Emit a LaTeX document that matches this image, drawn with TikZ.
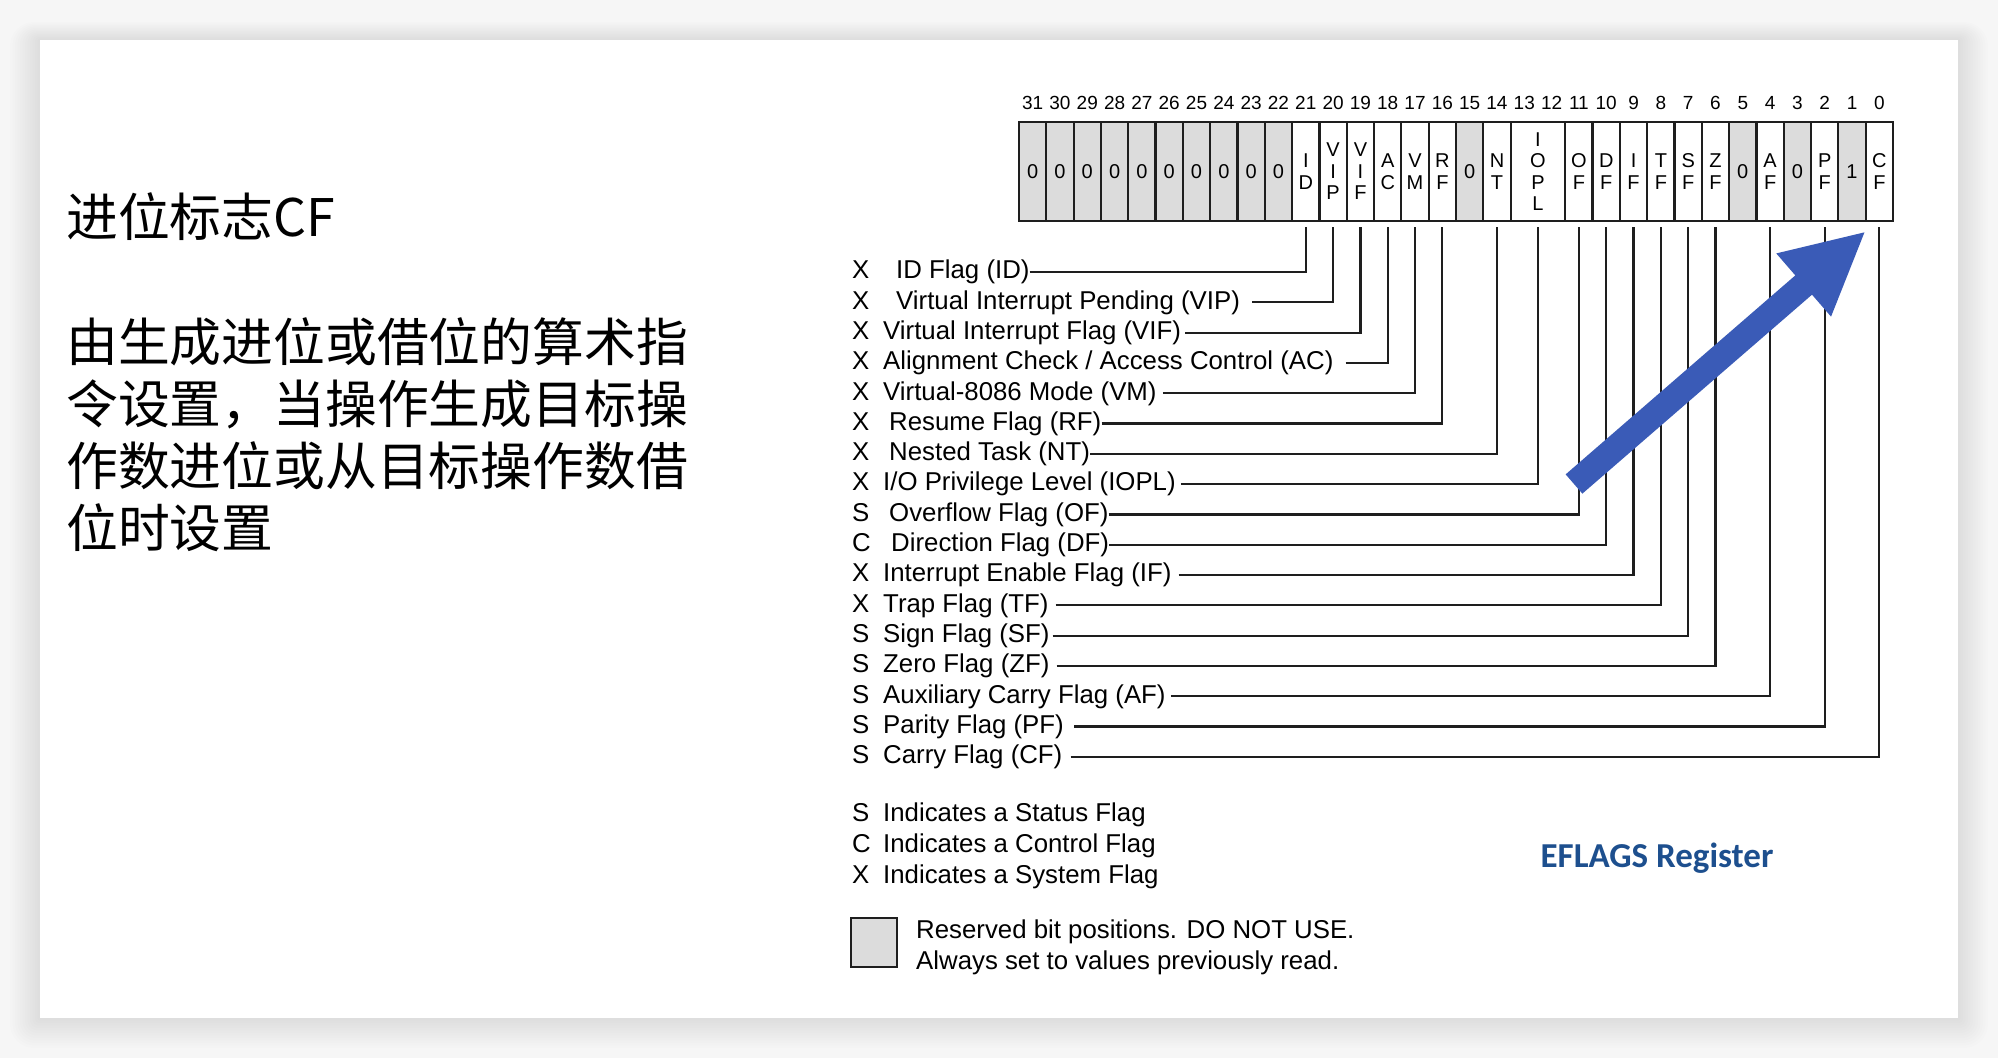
\documentclass[tikz,border=0pt]{standalone}
\usepackage{fontspec}
\setmainfont{Liberation Sans}
\newfontfamily\cjk{Noto Sans CJK SC}
\newfontfamily\capfont{Carlito}
\usepackage{xcolor}
\usetikzlibrary{positioning,arrows.meta,calc}
\definecolor{pagebg}{HTML}{F6F6F6}
\definecolor{rsvgray}{HTML}{DCDCDC}
\definecolor{regline}{HTML}{1E1E1E}
\definecolor{arrowblue}{HTML}{3A5BB7}
\definecolor{capblue}{HTML}{1D4F8E}

\begin{document}
\begin{tikzpicture}[x=1pt, y=-1pt,
  cell/.style={draw=regline, line width=2.2pt, minimum width=27.31pt, minimum height=99pt, inner sep=0pt, align=center, font=\fontsize{20}{21.5}\selectfont},
  rsv/.style={fill=rsvgray},
  live/.style={fill=white},
  bitnum/.style={inner sep=0pt, font=\fontsize{19}{20}\selectfont},
  kind/.style={anchor=west, inner sep=0pt, text height=19.4pt, text depth=5.7pt, font=\fontsize{25.8}{30}\selectfont},
  flag/.style={kind},
  note/.style={anchor=west, inner sep=0pt, align=left, font=\fontsize{25.8}{31}\selectfont},
  lead/.style={draw=regline, line width=2.2pt},
  cjktext/.style={inner sep=0pt, align=left, font=\cjk\fontsize{51.8}{62}\selectfont},
  arr/.style={arrowblue, line width=25.5pt, -{Triangle[length=82.5pt, width=77pt]}}
]
\useasboundingbox (0,0) rectangle (1998,1058);
\fill[pagebg] (0,0) rectangle (1998,1058);
\foreach \i in {1,...,12}
  \fill[black, opacity=0.007, rounded corners=2*\i pt] (40-2.5*\i,40-1.5*\i) rectangle (1958+2.5*\i,1018+2.5*\i);
\fill[white] (40,40) rectangle (1958,1018);

\node[cjktext, anchor=west] (title) at (66,217) {进位标志CF};
\node[cjktext, anchor=north west] (body) at (66,317) {由生成进位或借位的算术指\\令设置，当操作生成目标操\\作数进位或从目标操作数借\\位时设置};

\foreach \b in {0,...,31}
  \node[bitnum] (n\b) at ({1893-(\b+0.5)*27.3125},103) {\b};

\foreach \b/\txt/\sty in {31/0/rsv,30/0/rsv,29/0/rsv,28/0/rsv,27/0/rsv,26/0/rsv,25/0/rsv,24/0/rsv,23/0/rsv,22/0/rsv,
    21/{I\\D}/live,20/{V\\I\\P}/live,19/{V\\I\\F}/live,18/{A\\C}/live,17/{V\\M}/live,16/{R\\F}/live,15/0/rsv,14/{N\\T}/live,
    11/{O\\F}/live,10/{D\\F}/live,9/{I\\F}/live,8/{T\\F}/live,7/{S\\F}/live,6/{Z\\F}/live,5/0/rsv,4/{A\\F}/live,
    3/0/rsv,2/{P\\F}/live,1/1/rsv,0/{C\\F}/live}
  \node[cell,\sty] (c\b) at ({1893-(\b+0.5)*27.3125},171.5) {\txt};
\node[cell, live, minimum width=54.625pt] (c12) at ({1893-13*27.3125},171.5) {I\\O\\P\\L};

\foreach \k/\name/\bit/\dx/\gap [count=\i from 0] in {X/ID Flag (ID)/21/15/0, X/Virtual Interrupt Pending (VIP)/20/15/12,
    X/Virtual Interrupt Flag (VIF)/19/2/4, X/{Alignment Check / Access Control (AC)}/18/2/12, X/Virtual-8086 Mode (VM)/17/2/6,
    X/Resume Flag (RF)/16/8/0, X/Nested Task (NT)/14/8/0, X/{I/O Privilege Level (IOPL)}/12/2/5, S/Overflow Flag (OF)/11/8/0,
    C/Direction Flag (DF)/10/10/0, X/Interrupt Enable Flag (IF)/9/2/7, X/Trap Flag (TF)/8/2/7, S/Sign Flag (SF)/7/2/3,
    S/Zero Flag (ZF)/6/2/7, S/Auxiliary Carry Flag (AF)/4/2/5, S/Parity Flag (PF)/2/2/10, S/Carry Flag (CF)/0/2/8}
{
  \pgfmathsetmacro\ry{272+30.3*\i}
  \node[kind] (k\i) at (852,\ry) {\k};
  \node[flag] (f\i) at (881+\dx,\ry) {\name};
  \draw[lead] ([xshift=\gap pt]f\i.east) -| ([yshift=-5pt]c\bit.south);
}

\foreach \k/\txt [count=\i from 0] in {S/Indicates a Status Flag, C/Indicates a Control Flag, X/Indicates a System Flag}
{
  \node[kind] (lk\i) at (852,{815+31*\i}) {\k};
  \node[flag] (lt\i) at (883,{815+31*\i}) {\txt};
}

\node[draw=regline, line width=2pt, fill=rsvgray, minimum width=46pt, minimum height=49pt, inner sep=0pt] (rsvbox) at (874,942) {};
\node[note, right=18pt of rsvbox, yshift=-5pt] (rsvnote) {Reserved bit positions. DO NOT USE.\\Always set to values previously read.};

\node[text=capblue, font=\capfont\bfseries\fontsize{35}{40}\selectfont] (cap) at (1657,858) {EFLAGS Register};

\coordinate (atail) at (1574,484);
\coordinate (atip) at (1866,231);
\draw[arr] (atail) -- (atip);

\end{tikzpicture}
\end{document}
